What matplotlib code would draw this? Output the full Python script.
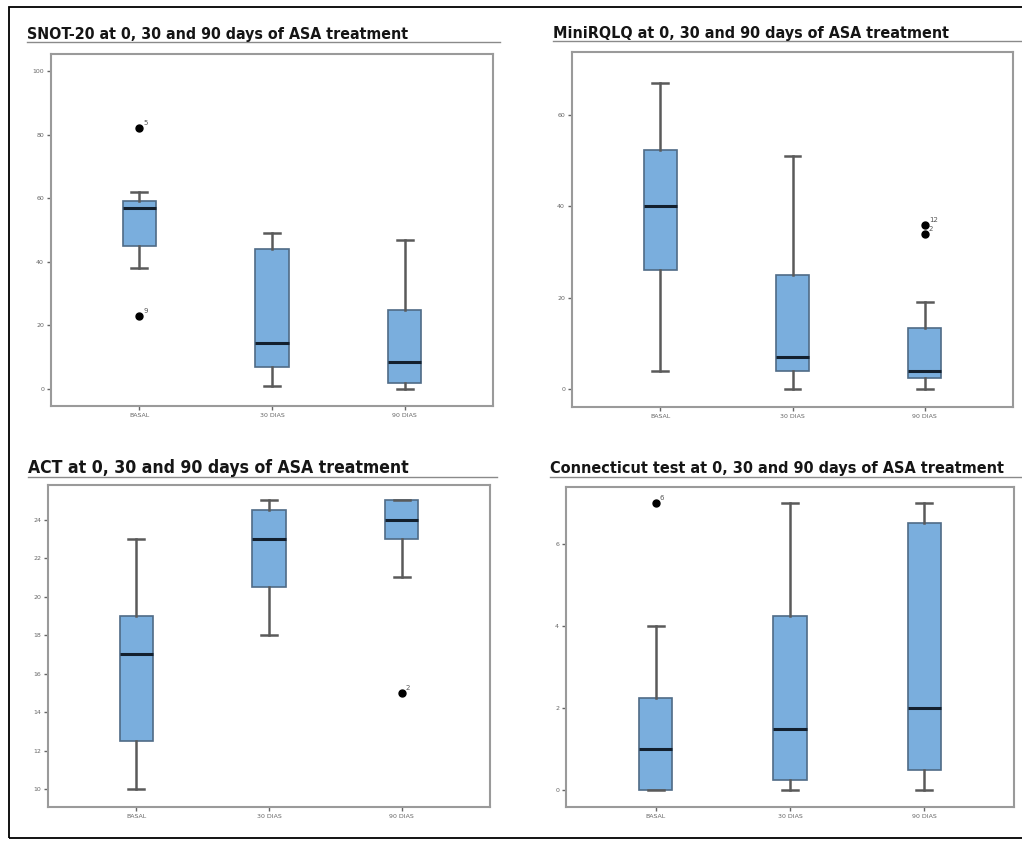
import matplotlib.pyplot as plt
from matplotlib.lines import Line2D
from matplotlib.patches import Rectangle
from matplotlib import font_manager

groups = ['BASAL', '30 DIAS', '90 DIAS']

# SNOT-20: [whislo, q1, med, q3, whishi]
snot_stats = [[38, 45, 57, 59, 62], [1, 7, 14.5, 44, 49], [0, 2, 8.5, 25, 47]]
snot_fliers = [[82, 23], [], []]
snot_flier_ids = [['5', '9'], [], []]
snot_ticks = [0, 20, 40, 60, 80, 100]

rqlq_stats = [[4, 26, 40, 52.3, 67], [0, 4, 7, 25, 51], [0, 2.5, 4, 13.5, 19]]
rqlq_fliers = [[], [], [36, 34]]
rqlq_flier_ids = [[], [], ['12', '2']]
rqlq_ticks = [0, 20, 40, 60]

act_stats = [[10, 12.5, 17, 19, 23], [18, 20.5, 23, 24.5, 25], [21, 23, 24, 25, 25]]
act_fliers = [[], [], [15]]
act_flier_ids = [[], [], ['2']]
act_ticks = [10, 12, 14, 16, 18, 20, 22, 24]

conn_stats = [[0, 0, 1, 2.25, 4], [0, 0.25, 1.5, 4.25, 7], [0, 0.5, 2, 6.5, 7]]
conn_fliers = [[7], [], []]
conn_flier_ids = [['6'], [], []]
conn_ticks = [0, 2, 4, 6]

panels = [
    ('SNOT-20 at 0, 30 and 90 days of ASA treatment', snot_stats, snot_fliers, snot_flier_ids, snot_ticks,
     [51, 54, 493, 406], (-5.3, 105.3), (27, 39, 500, 42)),
    ('MiniRQLQ at 0, 30 and 90 days of ASA treatment', rqlq_stats, rqlq_fliers, rqlq_flier_ids, rqlq_ticks,
     [572, 52, 1013, 407], (-3.9, 73.8), (553, 38, 1022, 41)),
    ('ACT at 0, 30 and 90 days of ASA treatment', act_stats, act_fliers, act_flier_ids, act_ticks,
     [48, 485, 490, 807], (9.08, 25.8), (28, 473, 497, 477)),
    ('Connecticut test at 0, 30 and 90 days of ASA treatment', conn_stats, conn_fliers, conn_flier_ids, conn_ticks,
     [566, 487, 1014, 807], (-0.41, 7.38), (550, 473, 1022, 477)),
]

W, H = 1022, 841
fig = plt.figure(figsize=(W / 100, H / 100), dpi=100)
fig.patch.set_facecolor('white')

# outer frame
fig.add_artist(Rectangle((9 / W, 1 - 838 / H), 1.05, (838 - 7) / H, transform=fig.transFigure,
                         fill=False, edgecolor='black', linewidth=1.3))

# pick a narrow bold face if one is there
names = {f.name for f in font_manager.fontManager.ttflist}
stretch = 'normal'
if 'Liberation Sans Narrow' in names:
    title_font = ['Liberation Sans Narrow', 'DejaVu Sans']
else:
    title_font = ['DejaVu Sans']
    cond = [f for f in font_manager.fontManager.ttflist
            if f.name == 'DejaVu Sans' and f.stretch == 'condensed' and f.weight in ('bold', 700)]
    if cond:
        stretch = 'condensed'

renderer = fig.canvas.get_renderer()

for title, stats, fliers, ids, ticks, box, ylim, tpos in panels:
    x0, y0, x1, y1 = box
    ax = fig.add_axes([x0 / W, 1 - y1 / H, (x1 - x0) / W, (y1 - y0) / H])
    bstats = []
    for s in stats:
        bstats.append(dict(whislo=s[0], q1=s[1], med=s[2], q3=s[3], whishi=s[4], fliers=[]))
    ax.bxp(bstats, positions=[1, 2, 3], widths=0.25, patch_artist=True, showfliers=False,
           capwidths=0.12,
           boxprops=dict(facecolor='#7aaedd', edgecolor='#4f6b86', linewidth=1.2),
           whiskerprops=dict(color='#5a5a5a', linewidth=1.8),
           capprops=dict(color='#5a5a5a', linewidth=1.8),
           medianprops=dict(color='#13202e', linewidth=2.2))
    for i, (f, lab) in enumerate(zip(fliers, ids)):
        for v, t in zip(f, lab):
            ax.plot(i + 1, v, 'o', color='black', markersize=5, zorder=5)
            ax.annotate(t, (i + 1, v), xytext=(3, 2), textcoords='offset points',
                        fontsize=5, color='#555555')
    ax.set_xlim(0.333, 3.667)
    ax.set_ylim(*ylim)
    ax.set_yticks(ticks)
    ax.set_xticks([1, 2, 3])
    ax.set_xticklabels(groups)
    ax.tick_params(labelsize=4.5, colors='#666666', length=3, width=1, pad=2)
    for sp in ax.spines.values():
        sp.set_color('#9a9a9a')
        sp.set_linewidth(1.5)

    tx, ty, ux, uy = tpos
    t = fig.text(tx / W, 1 - ty / H, title, fontsize=14, fontweight='bold', family=title_font,
                 fontstretch=stretch, color='#151515', ha='left', va='baseline')
    # narrow the title so it spans about the same width as in the reference
    target = {0: 383, 1: 396, 2: 382, 3: 455}[panels.index((title, stats, fliers, ids, ticks, box, ylim, tpos))]
    w = t.get_window_extent(renderer).width
    if w > target:
        t.set_fontsize(14 * target / w)
    fig.add_artist(Line2D([tx / W, ux / W], [1 - uy / H, 1 - uy / H], transform=fig.transFigure,
                          color='#8a8a8a', linewidth=1.0))

fig.savefig('out.png', dpi=100)
